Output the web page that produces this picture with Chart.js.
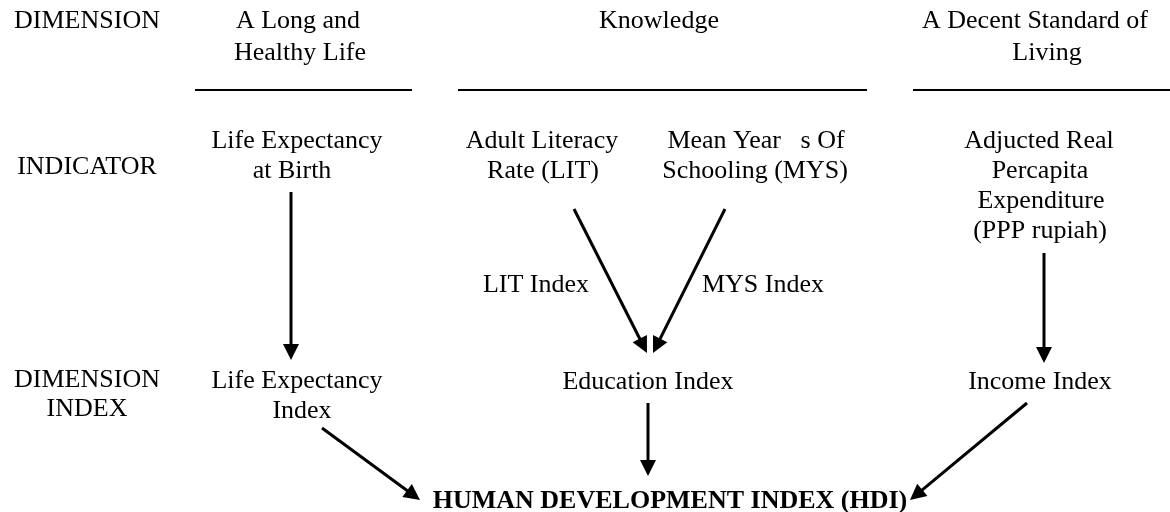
<!DOCTYPE html>
<html>
<head>
<meta charset="utf-8">
<script src="https://cdn.jsdelivr.net/npm/chart.js@4"></script>
<style>
  html, body { margin: 0; padding: 0; background: #fff; }
  #wrap { width: 1170px; height: 512px; }
</style>
</head>
<body>
<div id="wrap"><canvas id="diagram" width="1170" height="512"></canvas></div>
<script>
// ------ Diagram content (page units, y grows downward) ------
// text labels: one entry per printed line
const labelText = [
  'DIMENSION', 'A Long and', 'Healthy Life', 'Knowledge', 'A Decent Standard of', 'Living',
  'INDICATOR', 'Life Expectancy', 'at Birth', 'Adult Literacy', 'Rate (LIT)',
  'Mean Year   s Of', 'Schooling (MYS)', 'Adjucted Real', 'Percapita', 'Expenditure', '(PPP rupiah)',
  'LIT Index', 'MYS Index',
  'DIMENSION', 'INDEX', 'Life Expectancy', 'Index', 'Education Index', 'Income Index',
  'HUMAN DEVELOPMENT INDEX (HDI)'
];
const labelX = [
  87, 298, 300, 659, 1035, 1047,
  87, 297, 292, 542, 543,
  756, 755, 1039, 1040, 1041, 1040,
  536, 763,
  87, 87, 297, 302, 648, 1040,
  670
];
// baselines
const labelY = [
  28, 28, 60, 28, 28, 60,
  174, 148, 178, 148, 178,
  148, 178, 148, 178, 208, 238,
  292, 292,
  387, 416, 388, 418, 389, 389,
  508
];
const labelBold = labelText.map(t => t.startsWith('HUMAN'));

// header rules under the dimension names
const ruleStartX = [195, 458, 913];
const ruleEndX   = [412, 867, 1170];
const ruleY = 90;

// arrows: from -> to (tip)
const arrowFromX = [291, 574, 725, 1044, 322, 648, 1027];
const arrowFromY = [192, 209, 209, 253, 428, 403, 403];
const arrowToX   = [291, 647, 653, 1044, 420, 648, 910];
const arrowToY   = [360, 353, 353, 363, 500, 476, 500];

// ------ Datasets ------
const ruleSets = ruleStartX.map((x0, i) => ({
  data: [{ x: x0, y: ruleY }, { x: ruleEndX[i], y: ruleY }],
  showLine: true,
  borderColor: '#000',
  borderWidth: 2,
  pointRadius: 0
}));

// arrows and text are drawn by a plugin through the chart scales
const diagramPlugin = {
  id: 'diagram',
  afterDatasetsDraw(chart) {
    const { ctx, scales: { x, y } } = chart;
    ctx.save();
    ctx.fillStyle = '#000';
    ctx.strokeStyle = '#000';

    // arrows
    const headLen = 16, headHalf = 8;
    arrowFromX.forEach((fx, i) => {
      const x0 = x.getPixelForValue(fx), y0 = y.getPixelForValue(arrowFromY[i]);
      const x1 = x.getPixelForValue(arrowToX[i]), y1 = y.getPixelForValue(arrowToY[i]);
      const len = Math.hypot(x1 - x0, y1 - y0);
      const ux = (x1 - x0) / len, uy = (y1 - y0) / len;
      const bx = x1 - ux * headLen, by = y1 - uy * headLen;
      ctx.lineWidth = 3;
      ctx.lineCap = 'butt';
      ctx.beginPath();
      ctx.moveTo(x0, y0);
      ctx.lineTo(bx + ux * 2, by + uy * 2);
      ctx.stroke();
      ctx.beginPath();
      ctx.moveTo(x1, y1);
      ctx.lineTo(bx - uy * headHalf, by + ux * headHalf);
      ctx.lineTo(bx + uy * headHalf, by - ux * headHalf);
      ctx.closePath();
      ctx.fill();
    });

    // labels
    ctx.textAlign = 'center';
    ctx.textBaseline = 'alphabetic';
    labelText.forEach((t, i) => {
      ctx.font = (labelBold[i] ? 'bold ' : '') + '26px "Liberation Serif", "Times New Roman", serif';
      ctx.fillText(t, x.getPixelForValue(labelX[i]), y.getPixelForValue(labelY[i]));
    });
    ctx.restore();
  }
};

new Chart(document.getElementById('diagram').getContext('2d'), {
  type: 'scatter',
  data: { datasets: ruleSets },
  options: {
    responsive: false,
    animation: false,
    layout: { padding: 0 },
    plugins: { legend: { display: false }, tooltip: { enabled: false } },
    scales: {
      x: { type: 'linear', min: 0, max: 1170, display: false },
      y: { type: 'linear', min: 0, max: 512, reverse: true, display: false }
    }
  },
  plugins: [diagramPlugin]
});
</script>
</body>
</html>
